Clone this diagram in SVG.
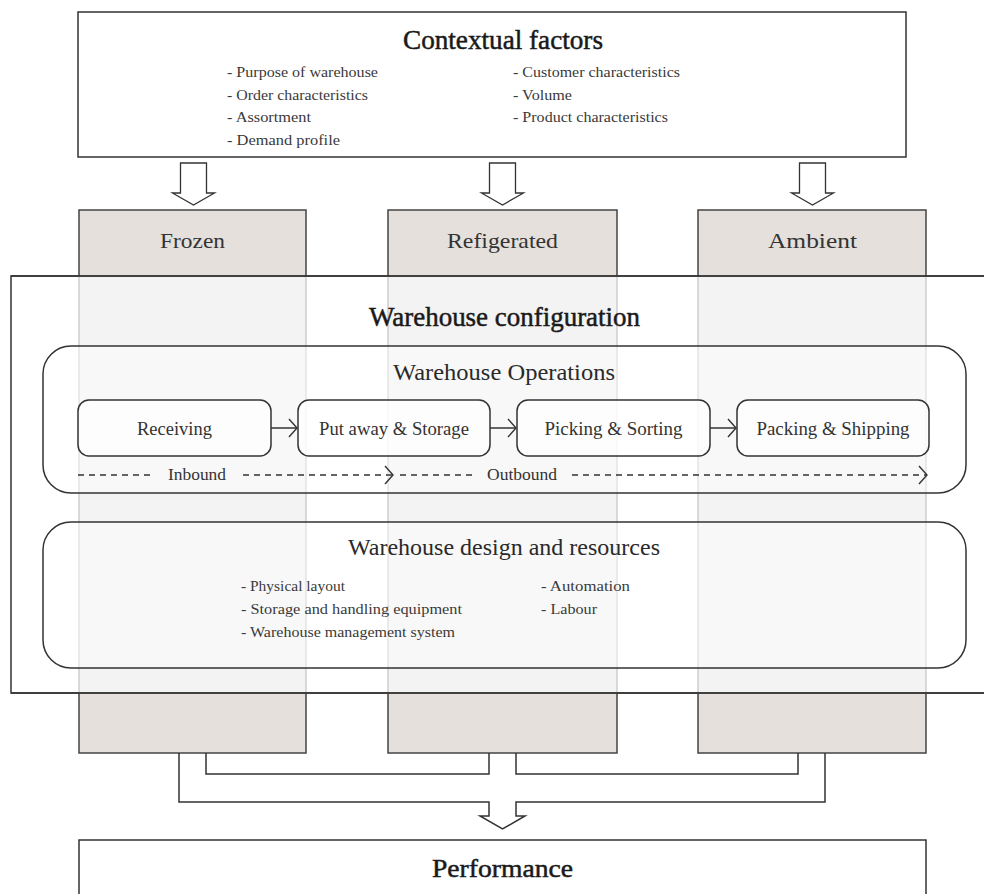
<svg xmlns="http://www.w3.org/2000/svg" width="984" height="894" viewBox="0 0 984 894">
<defs>
<style>
text{font-family:"Liberation Serif","DejaVu Serif",serif;fill:#333;}
.title{font-size:28px;fill:#1a1a1a;stroke:#1a1a1a;stroke-width:0.5px;text-anchor:middle;}
.sub{font-size:23px;fill:#2a2a2a;text-anchor:middle;}
.col{font-size:22px;fill:#333;text-anchor:middle;}
.proc{font-size:18px;fill:#333;text-anchor:middle;}
.list{font-size:15px;fill:#3a3a3a;}
.flow{font-size:16px;fill:#333;}
.box{fill:#fff;stroke:#333;stroke-width:1.5;}
.head{fill:#e5e0dc;stroke:#444;stroke-width:1.5;}
.body{fill:#f3f3f3;stroke:#c4c4c4;stroke-width:1.2;}
.rbox{fill:#fff;fill-opacity:0.45;stroke:#333;stroke-width:1.5;}
.pbox{fill:#fff;fill-opacity:0.75;stroke:#333;stroke-width:1.5;}
.ln{fill:none;stroke:#333;stroke-width:1.5;}
.harrow{fill:#fff;stroke:#333;stroke-width:1.3;stroke-linejoin:miter;}
.dash{fill:none;stroke:#333;stroke-width:1.3;stroke-dasharray:6 5;}
</style>
<marker id="chev" markerWidth="12" markerHeight="20" refX="9" refY="10" orient="auto" markerUnits="userSpaceOnUse">
<path d="M1,1 L9,10 L1,19" fill="none" stroke="#333" stroke-width="1.4"/>
</marker>
</defs>

<g id="contextual-factors">
<rect class="box" x="78" y="12" width="828" height="145"/>
<text class="title" x="503" y="49" textLength="200" lengthAdjust="spacingAndGlyphs">Contextual factors</text>
<text class="list" x="227" y="77" textLength="151" lengthAdjust="spacingAndGlyphs">- Purpose of warehouse</text>
<text class="list" x="227" y="99.5" textLength="141" lengthAdjust="spacingAndGlyphs">- Order characteristics</text>
<text class="list" x="227" y="122" textLength="84" lengthAdjust="spacingAndGlyphs">- Assortment</text>
<text class="list" x="227" y="144.5" textLength="113" lengthAdjust="spacingAndGlyphs">- Demand profile</text>
<text class="list" x="513" y="77" textLength="167" lengthAdjust="spacingAndGlyphs">- Customer characteristics</text>
<text class="list" x="513" y="99.5" textLength="59" lengthAdjust="spacingAndGlyphs">- Volume</text>
<text class="list" x="513" y="122" textLength="155" lengthAdjust="spacingAndGlyphs">- Product characteristics</text>
</g>

<g id="warehouse-configuration">
<rect x="11" y="276" width="990" height="417" fill="#fff" stroke="#333" stroke-width="1.5"/>
</g>

<g id="frozen">
<rect class="body" x="79" y="276" width="227" height="417"/>
<rect class="head" x="79" y="210" width="227" height="66"/>
<rect class="head" x="79" y="693" width="227" height="60"/>
<text class="col" x="192.5" y="248" textLength="65" lengthAdjust="spacingAndGlyphs">Frozen</text>
</g>
<g id="refigerated">
<rect class="body" x="388" y="276" width="229" height="417"/>
<rect class="head" x="388" y="210" width="229" height="66"/>
<rect class="head" x="388" y="693" width="229" height="60"/>
<text class="col" x="502.5" y="248" textLength="111" lengthAdjust="spacingAndGlyphs">Refigerated</text>
</g>
<g id="ambient">
<rect class="body" x="698" y="276" width="228" height="417"/>
<rect class="head" x="698" y="210" width="228" height="66"/>
<rect class="head" x="698" y="693" width="228" height="60"/>
<text class="col" x="812.5" y="248" textLength="89" lengthAdjust="spacingAndGlyphs">Ambient</text>
</g>

<g id="config-title">
<line x1="11" y1="276" x2="984" y2="276" stroke="#333" stroke-width="1.5"/>
<line x1="11" y1="693" x2="984" y2="693" stroke="#333" stroke-width="1.5"/>
<text class="title" x="504.5" y="326" textLength="271" lengthAdjust="spacingAndGlyphs">Warehouse configuration</text>
</g>

<g id="warehouse-operations">
<rect class="rbox" x="43" y="346" width="923" height="147" rx="28" ry="28"/>
<text class="sub" x="504" y="380" textLength="222" lengthAdjust="spacingAndGlyphs">Warehouse Operations</text>
</g>
<g id="receiving">
<rect class="pbox" x="78" y="400" width="193" height="56" rx="11" ry="11"/>
<text class="proc" x="174.5" y="435" textLength="75" lengthAdjust="spacingAndGlyphs">Receiving</text>
</g>
<g id="put-away-storage">
<rect class="pbox" x="298" y="400" width="192" height="56" rx="11" ry="11"/>
<text class="proc" x="394" y="435" textLength="150" lengthAdjust="spacingAndGlyphs">Put away &amp; Storage</text>
</g>
<g id="picking-sorting">
<rect class="pbox" x="517" y="400" width="193" height="56" rx="11" ry="11"/>
<text class="proc" x="613.5" y="435" textLength="138" lengthAdjust="spacingAndGlyphs">Picking &amp; Sorting</text>
</g>
<g id="packing-shipping">
<rect class="pbox" x="737" y="400" width="192" height="56" rx="11" ry="11"/>
<text class="proc" x="833" y="435" textLength="153" lengthAdjust="spacingAndGlyphs">Packing &amp; Shipping</text>
</g>
<g id="flow-labels">
<text class="flow" x="168" y="480" textLength="58" lengthAdjust="spacingAndGlyphs">Inbound</text>
<text class="flow" x="487" y="480" textLength="70" lengthAdjust="spacingAndGlyphs">Outbound</text>
</g>

<g id="warehouse-design">
<rect class="rbox" x="43" y="522" width="923" height="146" rx="28" ry="28"/>
<text class="sub" x="504" y="555" textLength="312" lengthAdjust="spacingAndGlyphs">Warehouse design and resources</text>
<text class="list" x="241" y="591" textLength="104" lengthAdjust="spacingAndGlyphs">- Physical layout</text>
<text class="list" x="241" y="614" textLength="221" lengthAdjust="spacingAndGlyphs">- Storage and handling equipment</text>
<text class="list" x="241" y="637" textLength="214" lengthAdjust="spacingAndGlyphs">- Warehouse management system</text>
<text class="list" x="541" y="591" textLength="89" lengthAdjust="spacingAndGlyphs">- Automation</text>
<text class="list" x="541" y="614" textLength="56" lengthAdjust="spacingAndGlyphs">- Labour</text>
</g>

<g id="performance">
<rect class="box" x="79" y="840" width="847" height="70"/>
<text class="title" x="502.5" y="877" textLength="141" lengthAdjust="spacingAndGlyphs" style="font-size:26px">Performance</text>
</g>

<g id="connectors">
<path class="harrow" d="M180.5,163 H206.5 V193 H214.5 L193.5,205 L172.5,193 H180.5 Z"/>
<path class="harrow" d="M489.5,163 H515.5 V193 H523.5 L502.5,205 L481.5,193 H489.5 Z"/>
<path class="harrow" d="M799.5,163 H825.5 V193 H833.5 L812.5,205 L791.5,193 H799.5 Z"/>
<line class="ln" x1="271" y1="428" x2="297" y2="428" marker-end="url(#chev)"/>
<line class="ln" x1="490" y1="428" x2="516" y2="428" marker-end="url(#chev)"/>
<line class="ln" x1="710" y1="428" x2="736" y2="428" marker-end="url(#chev)"/>
<line class="dash" x1="78" y1="475" x2="150" y2="475"/>
<line class="dash" x1="243" y1="475" x2="393" y2="475" marker-end="url(#chev)"/>
<line class="dash" x1="400" y1="475" x2="474" y2="475"/>
<line class="dash" x1="572" y1="475" x2="927" y2="475" marker-end="url(#chev)"/>
<path class="ln" d="M206,753 V774 H489 V753"/>
<path class="ln" d="M516,753 V774 H798 V753"/>
<path class="ln" d="M179,753 V802 H489 V816 H480 L502.5,829 L525,816 H516 V802 H825 V753" fill="#fff"/>
</g>
</svg>
